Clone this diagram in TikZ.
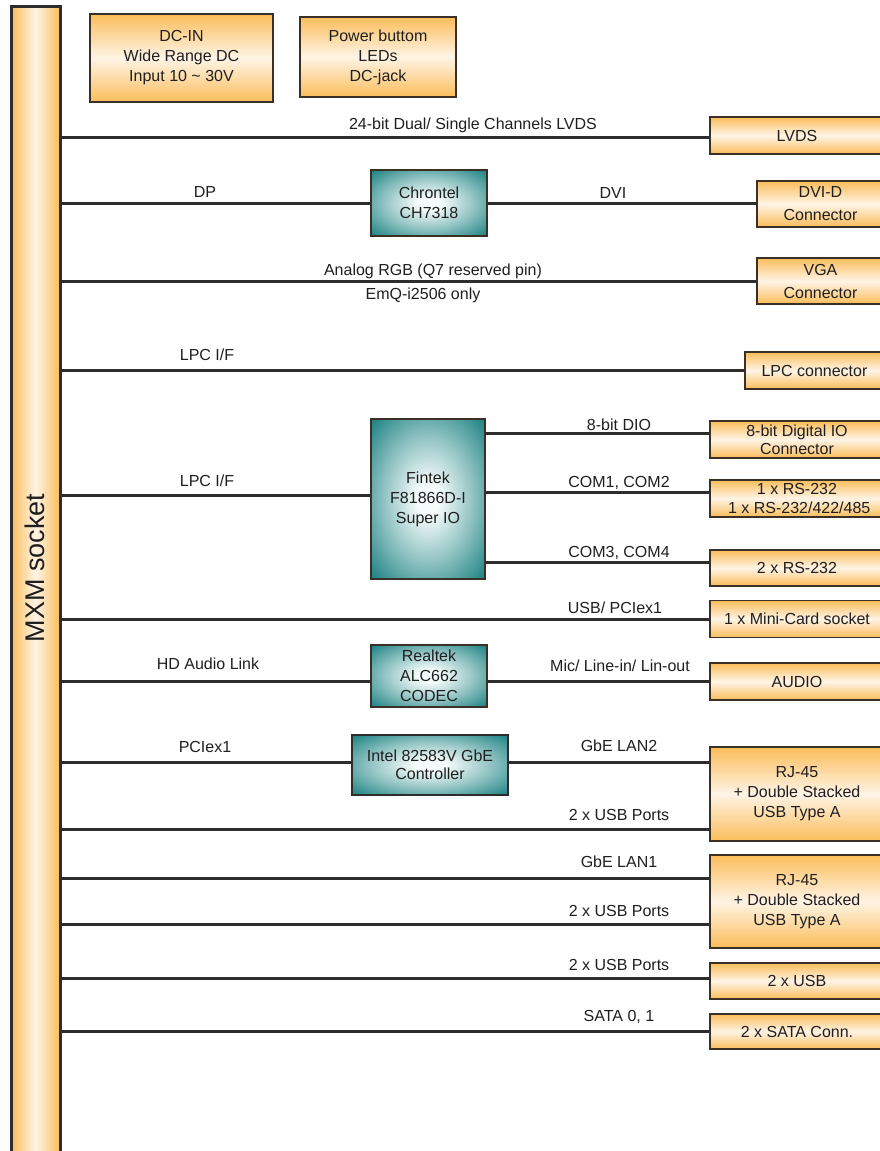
\documentclass[tikz,border=0pt]{standalone}
\usepackage{fontspec}
\setmainfont{Liberation Sans}
\usepackage{tikz}

\definecolor{boxorange}{RGB}{251,189,90}
\definecolor{boxlight}{RGB}{255,244,230}
\definecolor{chipteal}{RGB}{14,122,122}
\definecolor{chiplight}{RGB}{246,251,251}
\definecolor{wire}{RGB}{45,45,45}
\definecolor{edge}{RGB}{58,48,38}

\pgfdeclareradialshading{chipglow}{\pgfpoint{0bp}{0bp}}{%
	color(0bp)=(chiplight); color(5bp)=(chiplight); color(20bp)=(chiplight!55!chipteal); color(37bp)=(chipteal); color(50bp)=(chipteal)}

\begin{document}
\begin{tikzpicture}[x=1pt,y=-1pt,
	font=\fontsize{16}{20}\selectfont, text=black!88,
	conn/.style={draw=edge, line width=1.5pt, top color=boxorange, bottom color=boxorange, middle color=boxlight, inner sep=0pt, align=center},
	chip/.style={draw=edge, line width=1.5pt, shading=chipglow, inner sep=0pt, align=center},
	bus/.style={draw=wire, line width=3pt},
	lbl/.style={inner sep=0pt}]
		\useasboundingbox (0,0) rectangle (880,1151);

		% socket
		\node (mxm) at (35.5,585.5)[draw=wire, line width=3pt, left color=boxorange, right color=boxorange, middle color=boxlight, minimum width=49pt, minimum height=1159pt, inner sep=0pt]{};
		\node (mxmtxt) at (35,568)[rotate=90, font=\fontsize{27}{30}\selectfont]{MXM socket};

		% power
		\node (dcin) at (181.5,58)[conn, line width=1.2pt, minimum width=183pt, minimum height=88pt]{DC-IN\\Wide Range DC\\Input 10 \textasciitilde{} 30V};
		\node (pwr) at (378,57)[conn, line width=1.2pt, minimum width=156pt, minimum height=80pt]{Power buttom\\LEDs\\DC-jack};

		% chips
		\node (chrontel) at (429,203)[chip, minimum width=116pt, minimum height=66pt]{Chrontel\\CH7318};
		\node (fintek) at (428,499)[chip, minimum width=114pt, minimum height=160pt]{Fintek\\F81866D-I\\Super IO};
		\node (realtek) at (429,676)[chip, minimum width=116pt, minimum height=62pt]{Realtek\\ALC662\\CODEC};
		\node (intel) at (430,765)[chip, line width=2.8pt, draw=wire, minimum width=156pt, minimum height=60pt, font=\fontsize{16}{18}\selectfont]{Intel 82583V GbE\\Controller};

		% connectors
		\node (lvds) at (797,135.5)[conn, minimum width=174pt, minimum height=37pt]{LVDS};
		\node (dvid) at (820.5,204)[conn, minimum width=127pt, minimum height=46pt, font=\fontsize{16}{23}\selectfont]{DVI-D\\Connector};
		\node (vga) at (820.5,281)[conn, minimum width=127pt, minimum height=46pt, font=\fontsize{16}{23}\selectfont]{VGA\\Connector};
		\node (lpcc) at (814.5,370.5)[conn, minimum width=139pt, minimum height=37pt]{LPC connector};
		\node (dio) at (797,439.5)[conn, minimum width=174pt, minimum height=37pt, font=\fontsize{16}{18}\selectfont]{8-bit Digital IO\\Connector};
		\node (com12) at (797,498.5)[conn, minimum width=174pt, minimum height=37pt, font=\fontsize{16}{19}\selectfont]{1 x RS-232\\\ 1 x RS-232/422/485};
		\node (com34) at (797,568)[conn, minimum width=174pt, minimum height=36pt]{2 x RS-232};
		\node (mini) at (797,619)[conn, minimum width=174pt, minimum height=37pt]{1 x Mini-Card socket};
		\node (audio) at (797,681.5)[conn, minimum width=174pt, minimum height=37pt]{AUDIO};
		\node (rja) at (797,794)[conn, minimum width=174pt, minimum height=94pt]{RJ-45\\+ Double Stacked\\USB Type A};
		\node (rjb) at (797,901.5)[conn, minimum width=174pt, minimum height=93pt]{RJ-45\\+ Double Stacked\\USB Type A};
		\node (usb) at (797,981)[conn, minimum width=174pt, minimum height=36pt]{2 x USB};
		\node (sata) at (797,1031.5)[conn, minimum width=174pt, minimum height=35pt]{2 x SATA Conn.};

		% bus levels
		\coordinate (l1) at (0,137);
		\coordinate (l2) at (0,203);
		\coordinate (l3) at (0,281);
		\coordinate (l4) at (0,370);
		\coordinate (l5) at (0,433);
		\coordinate (l6) at (0,495);
		\coordinate (l7) at (0,492);
		\coordinate (l8) at (0,562);
		\coordinate (l9) at (0,619);
		\coordinate (l10) at (0,681);
		\coordinate (l11) at (0,762);
		\coordinate (l12) at (0,829);
		\coordinate (l13) at (0,878);
		\coordinate (l14) at (0,924);
		\coordinate (l15) at (0,978);
		\coordinate (l16) at (0,1031);

		\draw[bus] (mxm.east |- l1) -- (lvds.west |- l1);
		\draw[bus] (mxm.east |- l2) -- (chrontel.west |- l2);
		\draw[bus] (chrontel.east |- l2) -- (dvid.west |- l2);
		\draw[bus] (mxm.east |- l3) -- (vga.west |- l3);
		\draw[bus] (mxm.east |- l4) -- (lpcc.west |- l4);
		\draw[bus] (fintek.east |- l5) -- (dio.west |- l5);
		\draw[bus] (mxm.east |- l6) -- (fintek.west |- l6);
		\draw[bus] (fintek.east |- l7) -- (com12.west |- l7);
		\draw[bus] (fintek.east |- l8) -- (com34.west |- l8);
		\draw[bus] (mxm.east |- l9) -- (mini.west |- l9);
		\draw[bus] (mxm.east |- l10) -- (realtek.west |- l10);
		\draw[bus] (realtek.east |- l10) -- (audio.west |- l10);
		\draw[bus] (mxm.east |- l11) -- (intel.west |- l11);
		\draw[bus] (intel.east |- l11) -- (rja.west |- l11);
		\draw[bus] (mxm.east |- l12) -- (rja.west |- l12);
		\draw[bus] (mxm.east |- l13) -- (rjb.west |- l13);
		\draw[bus] (mxm.east |- l14) -- (rjb.west |- l14);
		\draw[bus] (mxm.east |- l15) -- (usb.west |- l15);
		\draw[bus] (mxm.east |- l16) -- (sata.west |- l16);

		% bus labels
		\node (t1) at (473,125)[lbl]{24-bit Dual/ Single Channels LVDS};
		\node (t2) at (205,192)[lbl]{DP};
		\node (t3) at (613,193)[lbl]{DVI};
		\node (t4) at (433,271)[lbl]{Analog RGB (Q7 reserved pin)};
		\node (t5) at (423,295)[lbl]{EmQ-i2506 only};
		\node (t6) at (207,355)[lbl]{LPC I/F};
		\node (t7) at (619,425)[lbl]{8-bit DIO};
		\node (t8) at (207,481)[lbl]{LPC I/F};
		\node (t9) at (619,483)[lbl]{COM1, COM2};
		\node (t10) at (619,553)[lbl]{COM3, COM4};
		\node (t11) at (615,608)[lbl]{USB/ PCIex1};
		\node (t12) at (208,664)[lbl]{HD Audio Link};
		\node (t13) at (620,666)[lbl]{Mic/ Line-in/ Lin-out};
		\node (t14) at (205,747)[lbl]{PCIex1};
		\node (t15) at (619,746)[lbl]{GbE LAN2};
		\node (t16) at (619,815)[lbl]{2 x USB Ports};
		\node (t17) at (619,862)[lbl]{GbE LAN1};
		\node (t18) at (619,911)[lbl]{2 x USB Ports};
		\node (t19) at (619,965)[lbl]{2 x USB Ports};
		\node (t20) at (619,1017)[lbl]{SATA 0, 1};
		\end{tikzpicture}
\end{document}
